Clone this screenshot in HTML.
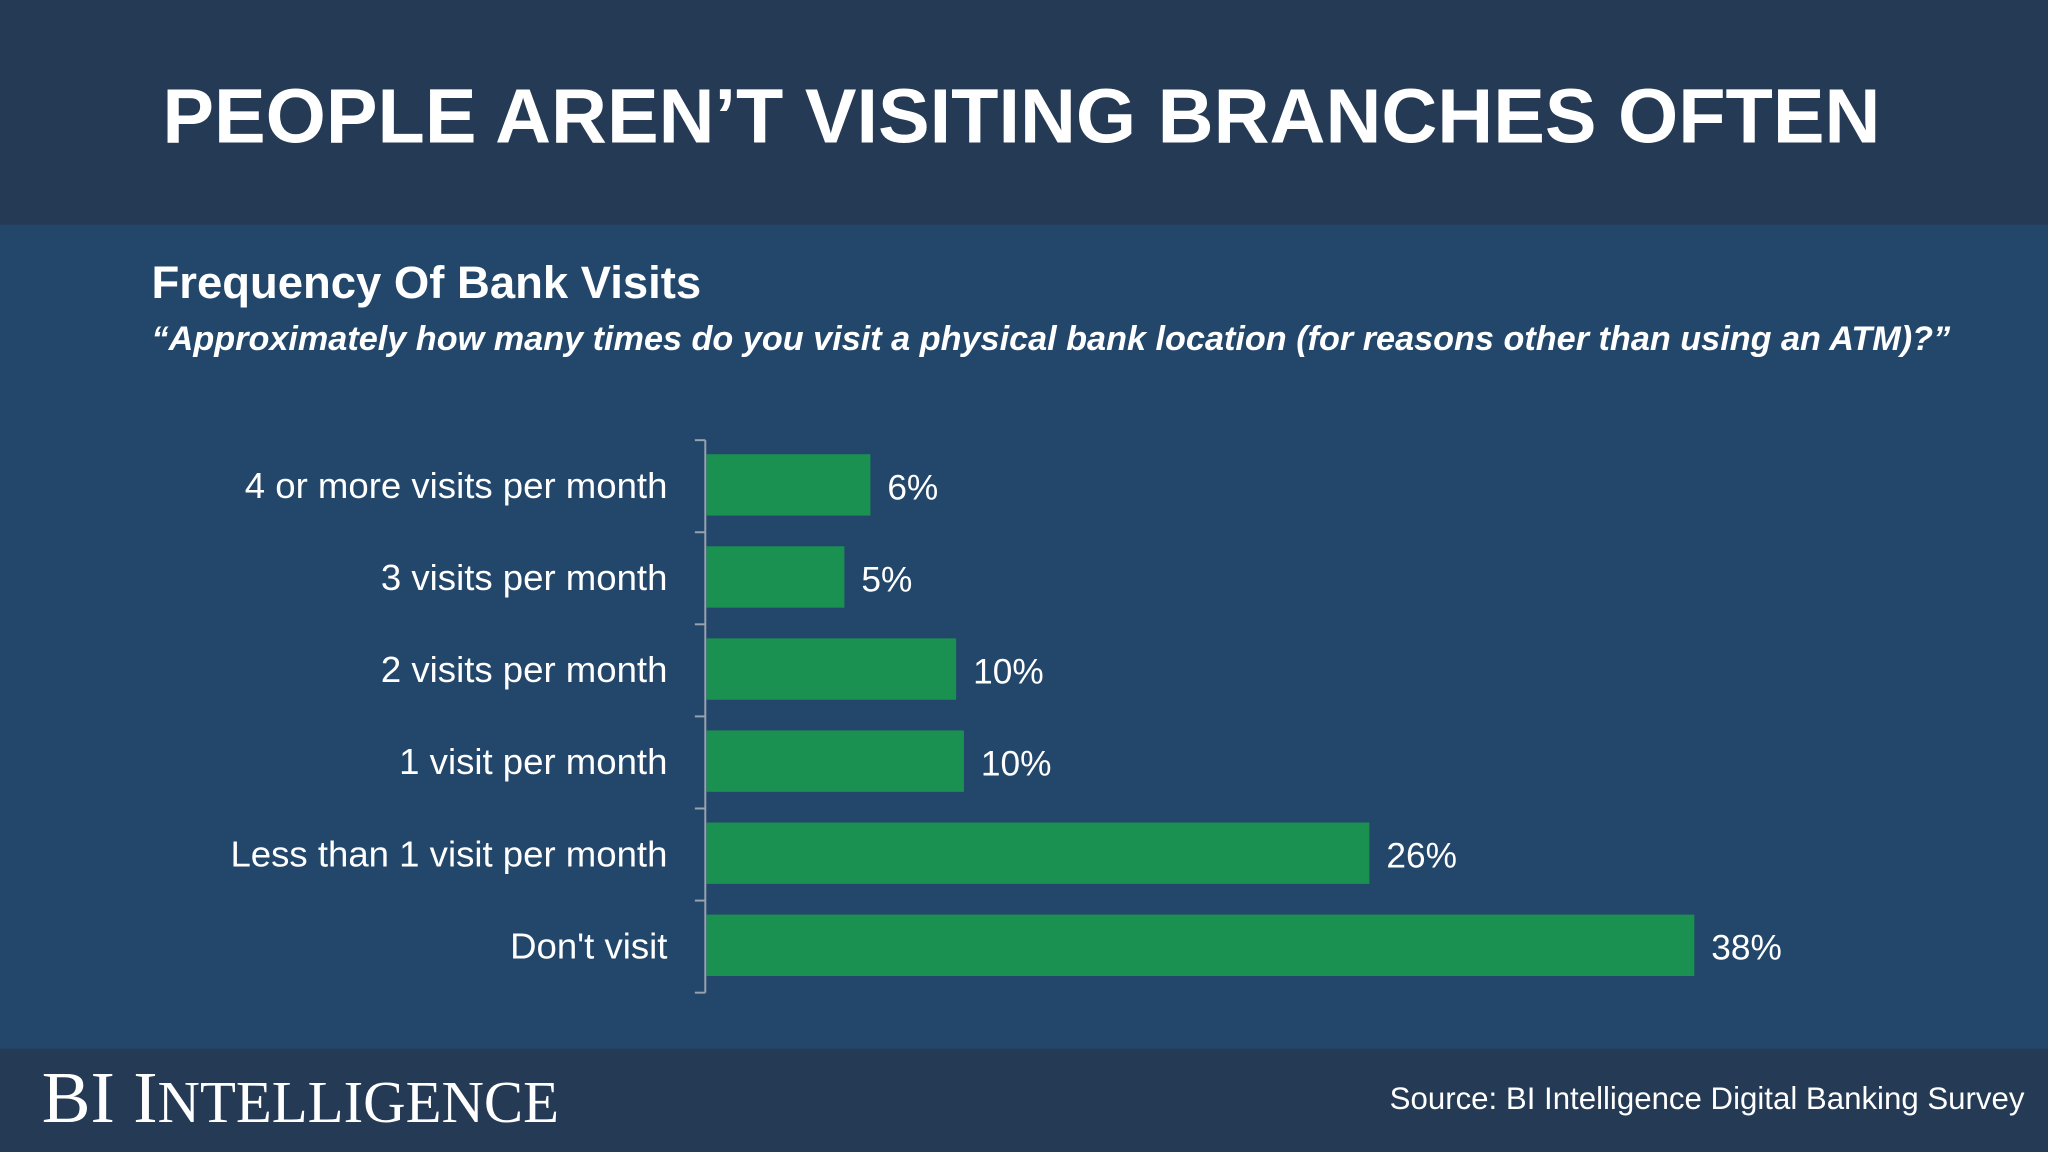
<!DOCTYPE html>
<html><head><meta charset="utf-8"><style>
html,body{margin:0;padding:0;width:2048px;height:1152px;overflow:hidden;background:#234567;}
svg{display:block}
</style></head><body>
<svg id="chart" width="2048" height="1152" viewBox="0 0 1568 882" xmlns="http://www.w3.org/2000/svg">
<rect x="0" y="0" width="1568" height="882" fill="#23476b"/>
<rect x="0" y="0" width="1568" height="172" fill="#253a54"/>
<text x="782" y="109" text-anchor="middle" fill="#fff" font-family="Liberation Sans, sans-serif" font-weight="bold" font-size="59.3">PEOPLE AREN’T VISITING BRANCHES OFTEN</text>
<text x="116" y="228" fill="#fff" font-family="Liberation Sans, sans-serif" font-weight="bold" font-size="34.8">Frequency Of Bank Visits</text>
<text x="116" y="268" fill="#fff" font-family="Liberation Sans, sans-serif" font-weight="bold" font-style="italic" font-size="26.2">“Approximately how many times do you visit a physical bank location (for reasons other than using an ATM)?”</text>
<g id="plot"></g>
<rect x="0" y="803" width="1568" height="79" fill="#253a54"/>
<text x="32" y="859" fill="#fff" font-family="Liberation Serif, serif" font-size="56">BI I<tspan font-size="45">NTELLIGENCE</tspan></text>
<text x="1550" y="849" text-anchor="end" fill="#fff" font-family="Liberation Sans, sans-serif" font-size="23.9">Source: BI Intelligence Digital Banking Survey</text>
</svg>
<script>
const categories = ["4 or more visits per month","3 visits per month","2 visits per month","1 visit per month","Less than 1 visit per month","Don't visit"];
const values = [6.3, 5.3, 9.6, 9.9, 25.5, 38];
const valueLabels = ["6%","5%","10%","10%","26%","38%"];

const NS = "http://www.w3.org/2000/svg";
const plot = document.getElementById('plot');
const x0 = 541, pxPerUnit = 19.9;
const yTop = 337, rowH = 70.5, barH = 47;
const xScale = v => x0 + v * pxPerUnit;
const yScale = i => yTop + i * rowH;
function mk(tag, attrs){const e=document.createElementNS(NS,tag);for(const k in attrs)e.setAttribute(k,attrs[k]);plot.appendChild(e);return e;}

const axis = mk('line',{x1:540,y1:yTop,x2:540,y2:yScale(categories.length),stroke:'#9aa3ad','stroke-width':1.5});


for(let i=0;i<=categories.length;i++){
  const t = mk('line',{x1:532,y1:yScale(i),x2:540,y2:yScale(i),stroke:'#9aa3ad','stroke-width':1.5});
  
  
}
categories.forEach((c,i)=>{
  const yc = yScale(i) + rowH/2;
  const b = mk('rect',{x:x0,y:yc-barH/2-1,width:xScale(values[i])-x0,height:barH,fill:'#1a9150'});
  
  
  const l = mk('text',{x:511,y:yc+9,'text-anchor':'end',fill:'#fff','font-family':'Liberation Sans, sans-serif','font-size':28});
  l.textContent = c;
  
  
  const v = mk('text',{x:xScale(values[i])+13,y:yc+10,fill:'#fff','font-family':'Liberation Sans, sans-serif','font-size':27});
  v.textContent = valueLabels[i];
  
  
});
</script>
</body></html>
